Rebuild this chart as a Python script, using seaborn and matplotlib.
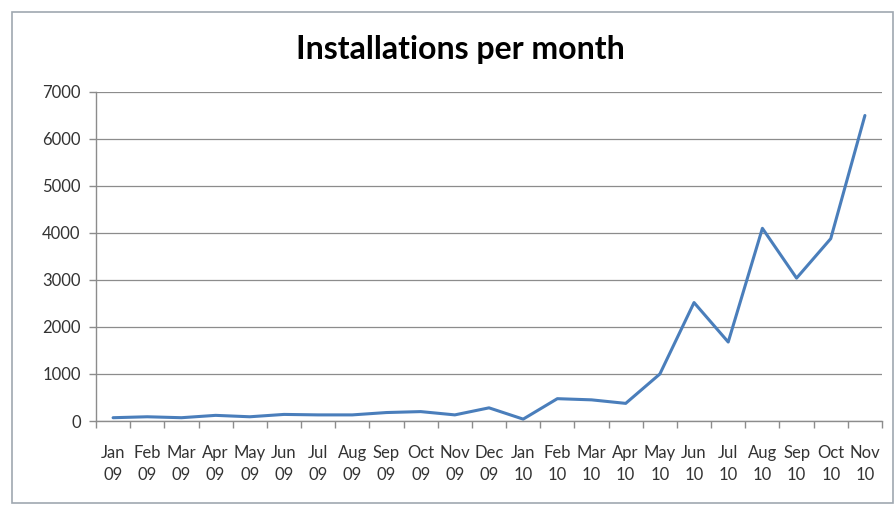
import matplotlib
matplotlib.use("Agg")
import matplotlib.pyplot as plt
import seaborn as sns
import pandas as pd
import numpy as np
from matplotlib.patches import Rectangle

months = ["Jan\n09", "Feb\n09", "Mar\n09", "Apr\n09", "May\n09", "Jun\n09", "Jul\n09",
          "Aug\n09", "Sep\n09", "Oct\n09", "Nov\n09", "Dec\n09", "Jan\n10", "Feb\n10",
          "Mar\n10", "Apr\n10", "May\n10", "Jun\n10", "Jul\n10", "Aug\n10", "Sep\n10",
          "Oct\n10", "Nov\n10"]
installs = [70, 90, 70, 120, 90, 140, 130, 130, 180, 200, 130, 280, 40, 475,
            450, 375, 1000, 2520, 1680, 4100, 3040, 3880, 6500]
yticks = [0, 1000, 2000, 3000, 4000, 5000, 6000, 7000]

sns.set_theme(style="white")
plt.rcParams['font.family'] = ['Lato', 'DejaVu Sans']

df = pd.DataFrame({"pos": np.arange(len(months)), "val": installs})

fig = plt.figure(figsize=(8.94, 5.05), dpi=100)
fig.patch.set_facecolor("white")
ax = fig.add_axes([96/894, 1-421/505, (882-96)/894, (421-92)/505])

sns.lineplot(data=df, x="pos", y="val", ax=ax, color="#4A7EBB", linewidth=2.2)

ax.set_xlim(-0.5, len(months) - 0.5)
ax.set_ylim(0, 7000)
ax.set_yticks(yticks)
ax.set_yticklabels([str(v) for v in yticks])
ax.set_xticks(np.arange(len(months)))
ax.set_xticklabels(months, linespacing=1.5)
ax.set_xticks(np.arange(-0.5, len(months), 1.0), minor=True)
ax.tick_params(axis="x", which="major", length=0, pad=17, labelsize=12, labelcolor="#333333")
ax.tick_params(axis="x", which="minor", length=5, width=1, color="#8C8C8C", direction="out", bottom=True)
ax.tick_params(axis="y", which="major", length=5, width=1, color="#8C8C8C", direction="out",
               left=True, labelsize=12, labelcolor="#333333", pad=6)
ax.set_xlabel("")
ax.set_ylabel("")
ax.grid(axis="y", color="#8C8C8C", linewidth=0.9)
ax.set_axisbelow(True)
for s in ["top", "right"]:
    ax.spines[s].set_visible(False)
for s in ["left", "bottom"]:
    ax.spines[s].set_color("#8C8C8C")
    ax.spines[s].set_linewidth(1)

fig.text(460/894, 1-49/505, "Installations per month", ha="center", va="center",
         fontsize=23, fontweight="bold", color="black")

fig.patches.append(Rectangle((12/894, 2/505), (893-12)/894, (493-2)/505,
                             transform=fig.transFigure, fill=False,
                             edgecolor="#A0A8B0", linewidth=1.2))

fig.savefig("out.png", dpi=100, facecolor="white")
